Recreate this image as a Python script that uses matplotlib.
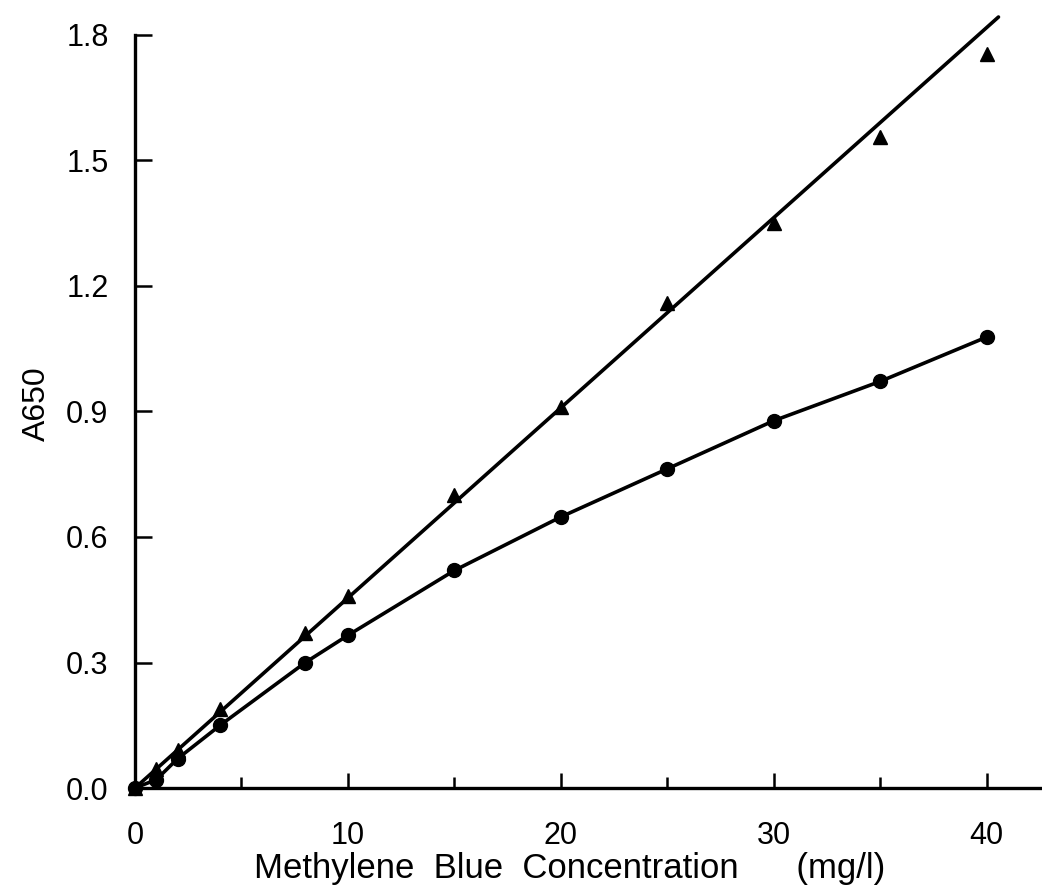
import numpy as np
import matplotlib
matplotlib.use("Agg")
import matplotlib.pyplot as plt
from matplotlib.ticker import MultipleLocator

plt.rcParams['font.family'] = ['Liberation Sans', 'DejaVu Sans']

# concentrations (mg/l)
conc = [0, 1, 2, 4, 8, 10, 15, 20, 25, 30, 35, 40]

# absorbance at 650 nm, two series
a650_triangle = [0.0, 0.045, 0.09, 0.19, 0.37, 0.46, 0.70, 0.91, 1.16, 1.35, 1.555, 1.755]
a650_circle = [0.0, 0.02, 0.07, 0.15, 0.30, 0.365, 0.52, 0.648, 0.763, 0.878, 0.972, 1.078]

# straight line drawn through the triangles (end points)
fit_x = [0, 40.55]
fit_y = [0, 1.843]

x_ticks = [0, 10, 20, 30, 40]
y_ticks = [0.0, 0.3, 0.6, 0.9, 1.2, 1.5, 1.8]

fig = plt.figure(figsize=(10.42, 8.89), dpi=100)
ax = fig.add_axes([135 / 1042, 1 - 788 / 889, 905 / 1042, 753 / 889])

ax.plot(fit_x, fit_y, color='black', lw=2.6, clip_on=False, solid_capstyle='round')
ax.plot(conc, a650_triangle, linestyle='none', marker='^', ms=10, color='black', clip_on=False)
ax.plot(conc, a650_circle, color='black', lw=2.6, marker='o', ms=10, clip_on=False)

ax.set_xlim(0, 42.5)
ax.set_ylim(0, 1.8)

for side in ['top', 'right']:
    ax.spines[side].set_visible(False)
for side in ['left', 'bottom']:
    ax.spines[side].set_linewidth(2.4)

ax.set_xticks(x_ticks)
ax.set_yticks(y_ticks)
ax.set_yticklabels([f'{v:.1f}' for v in y_ticks])
ax.xaxis.set_minor_locator(MultipleLocator(5))

ax.tick_params(axis='x', which='major', direction='in', length=11, width=1.8, pad=24, labelsize=22)
ax.tick_params(axis='x', which='minor', direction='in', length=8, width=1.8)
ax.tick_params(axis='y', which='major', direction='in', length=12, width=1.8, pad=19, labelsize=22)

ax.set_xlabel('Methylene  Blue  Concentration      (mg/l)', fontsize=25)
ax.xaxis.set_label_coords(0.48, -0.085)
ax.set_ylabel('A650', fontsize=23)
ax.yaxis.set_label_coords(-0.092, 0.51)

fig.savefig('out.png', dpi=100)
